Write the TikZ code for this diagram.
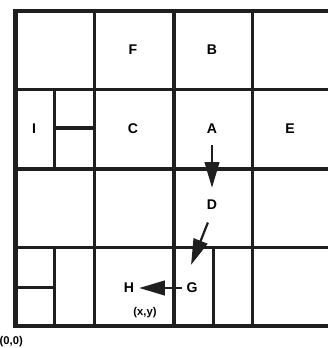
\documentclass[tikz,border=0pt]{standalone}
\usepackage{fontspec}
\setsansfont{Liberation Sans}
\usetikzlibrary{arrows.meta}

\begin{document}
\begin{tikzpicture}[x=0.03cm, y=-0.03cm,
        gridline/.style={line width=2.8pt, draw=black!88},
        borderline/.style={line width=3.8pt, draw=black!88},
        cellname/.style={font=\sffamily\bfseries\fontsize{12}{14}\selectfont, inner sep=0pt,
            minimum width=12pt, minimum height=12pt},
        coordname/.style={font=\sffamily\bfseries\fontsize{9.6}{11}\selectfont, inner sep=0pt},
        move/.style={line width=1.9pt, draw=black!88, -{Triangle[length=22pt, width=12.5pt]}}]
        \useasboundingbox (0,0) rectangle (328,348);

        \draw[gridline] (94.5,11) -- (94.5,326);
        \draw[gridline] (174,11) -- (174,326);
        \draw[gridline] (252.5,11) -- (252.5,326);
        \draw[gridline] (15.5,89.3) -- (328,89.3);
        \draw[gridline] (15.5,169) -- (328,169);
        \draw[gridline] (15.5,247.3) -- (328,247.3);
        \draw[gridline] (54.5,89.3) -- (54.5,169);
        \draw[gridline] (54.5,128) -- (94.5,128);
        \draw[gridline] (54.5,247.3) -- (54.5,326);
        \draw[gridline] (15.5,287.5) -- (54.5,287.5);
        \draw[gridline] (213.5,247.3) -- (213.5,326);
        \draw[borderline] (328,11) -- (15.5,11) -- (15.5,326) -- (328,326);

        \node[cellname] (F) at (133,50) {F};
        \node[cellname] (B) at (212,50) {B};
        \node[cellname] (I) at (34,129) {I};
        \node[cellname] (C) at (133,129) {C};
        \node[cellname] (A) at (212,129) {A};
        \node[cellname] (E) at (290,129) {E};
        \node[cellname] (D) at (212,205) {D};
        \node[cellname] (H) at (129,288) {H};
        \node[cellname] (G) at (192,288) {G};
        \node[coordname] (xy) at (145,313) {(x,y)};
        \node[coordname, anchor=west] (origin) at (-0.5,342) {(0,0)};

        \draw[move, shorten <=7.7pt, shorten >=8.5pt] (A) -- (D);
        \draw[move, shorten <=9.4pt, shorten >=14.6pt] (D.south) -- (G.north west);
        \draw[move, shorten <=2.5pt, shorten >=2.5pt] (G) -- (H);
    \end{tikzpicture}
\end{document}
